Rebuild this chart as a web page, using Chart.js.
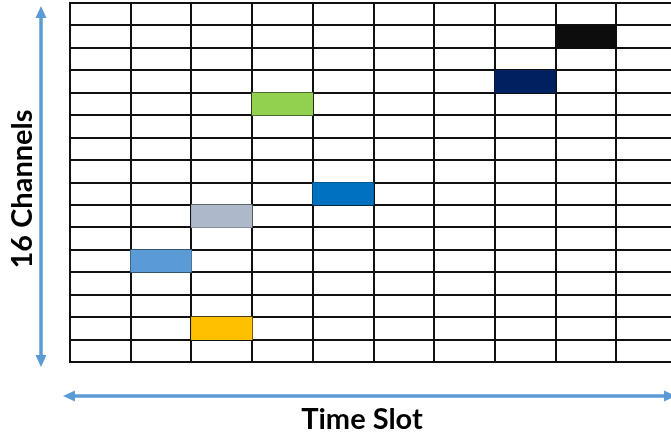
<!DOCTYPE html>
<html><head><meta charset="utf-8">
<script src="https://cdn.jsdelivr.net/npm/chart.js@4"></script>
<style>html,body{margin:0;padding:0;overflow:hidden;background:#fff}#wrap{width:690px;height:439px;position:relative}</style>
</head><body><div id="wrap"><canvas id="c"></canvas></div>
<script>
const channels = ['1','2','3','4','5','6','7','8','9','10','11','12','13','14','15','16'];
const timeSlots = [1,2,3,4,5,6,7,8,9,10];
const cellChannel = [15, 13, 12, 8, 7, 5, 2];
const cellSlot = [9, 8, 4, 5, 3, 2, 3];
const cellColor = ['#0D0D0D', '#002060', '#92D050', '#0070C0', '#ADB9CA', '#5B9BD5', '#FFC000'];
const xTitle = 'Time Slot';
const yTitle = '16 Channels';

const cells = cellChannel.map((ch, i) => ({ y: String(ch), x: [cellSlot[i] - 1, cellSlot[i]] }));

const ARROW = '#5B9BD5';
function arrowHead(ctx, x, y, dir) {
  const L = 12, W = 5.5;
  ctx.beginPath();
  if (dir === 'up') { ctx.moveTo(x, y); ctx.lineTo(x - W, y + L); ctx.lineTo(x + W, y + L); }
  else if (dir === 'down') { ctx.moveTo(x, y); ctx.lineTo(x - W, y - L); ctx.lineTo(x + W, y - L); }
  else if (dir === 'left') { ctx.moveTo(x, y); ctx.lineTo(x + L, y - W); ctx.lineTo(x + L, y + W); }
  else { ctx.moveTo(x, y); ctx.lineTo(x - L, y - W); ctx.lineTo(x - L, y + W); }
  ctx.closePath(); ctx.fill();
}

const decor = {
  id: 'decor',
  afterDraw(chart) {
    const ctx = chart.ctx, a = chart.chartArea;
    ctx.save();
    ctx.strokeStyle = ARROW; ctx.fillStyle = ARROW; ctx.lineWidth = 3.5;
    // vertical arrow
    const vx = a.left - 29, vt = a.top + 3, vb = a.bottom + 5;
    ctx.beginPath(); ctx.moveTo(vx, vt + 10); ctx.lineTo(vx, vb - 10); ctx.stroke();
    arrowHead(ctx, vx, vt, 'up'); arrowHead(ctx, vx, vb, 'down');
    // horizontal arrow
    const hy = a.bottom + 34, hl = a.left - 7, hr = a.right - 1;
    ctx.beginPath(); ctx.moveTo(hl + 10, hy); ctx.lineTo(hr - 10, hy); ctx.stroke();
    arrowHead(ctx, hl, hy, 'left'); arrowHead(ctx, hr, hy, 'right');
    // titles
    ctx.fillStyle = '#000';
    ctx.font = 'bold 29px Lato';
    ctx.textAlign = 'center'; ctx.textBaseline = 'alphabetic';
    ctx.fillText(chart.options.scales.x.title.text, a.left + 292, a.bottom + 67);
    ctx.translate(a.left - 38, (a.top + a.bottom) / 2 + 6.5);
    ctx.rotate(-Math.PI / 2);
    ctx.fillText(chart.options.scales.y.title.text, 0, 0);
    ctx.restore();
  }
};

new Chart(document.getElementById('c'), {
  type: 'bar',
  data: {
    labels: channels,
    datasets: [{
      data: cells,
      backgroundColor: cellColor,
      borderWidth: 0,
      barPercentage: 1,
      categoryPercentage: 1
    }]
  },
  options: {
    indexAxis: 'y',
    responsive: true,
    maintainAspectRatio: false,
    animation: false,
    layout: { padding: { left: 70, top: 3, right: 13, bottom: 77 } },
    plugins: { legend: { display: false }, tooltip: { enabled: false } },
    scales: {
      x: {
        type: 'linear', min: 0, max: timeSlots.length, z: 1,
        ticks: { display: false, stepSize: 1 },
        grid: { color: '#111', lineWidth: 2, drawTicks: false },
        border: { color: '#111', width: 2 },
        title: { display: false, text: xTitle }
      },
      y: {
        type: 'category', reverse: true, z: 1, offset: true,
        ticks: { display: false },
        grid: { color: '#111', lineWidth: 2, drawTicks: false, offset: true },
        border: { color: '#111', width: 2 },
        title: { display: false, text: yTitle }
      }
    }
  },
  plugins: [decor]
});
</script>
</body></html>
